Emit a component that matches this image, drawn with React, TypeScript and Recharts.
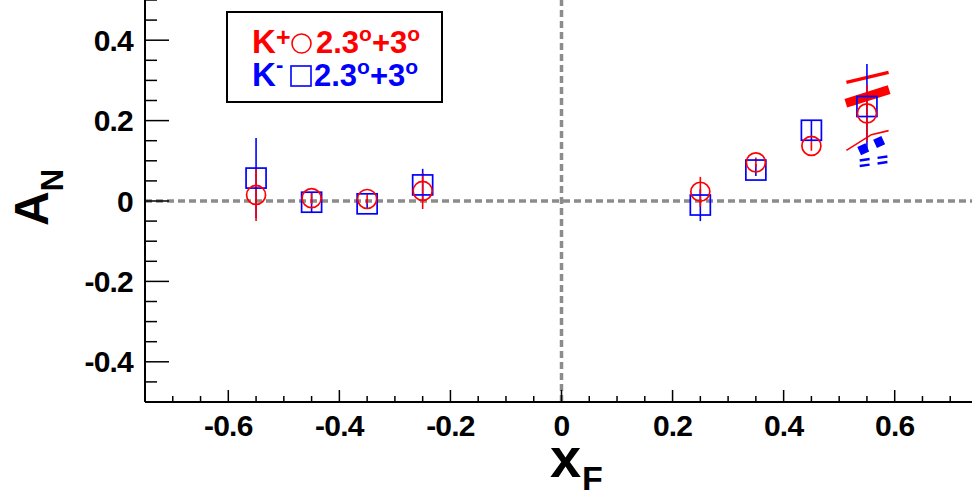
import React from "react";
import {
  ComposedChart,
  Scatter,
  Line,
  XAxis,
  YAxis,
  ErrorBar,
  ReferenceLine,
} from "recharts";

// ---------- data ----------
const X_F = [-0.55, -0.45, -0.35, -0.25, 0.25, 0.35, 0.45, 0.55];
const KPLUS_AN = [0.015, 0.007, 0.005, 0.025, 0.023, 0.096, 0.137, 0.218];
const KPLUS_ERR = [0.065, 0.015, 0.012, 0.045, 0.037, 0.012, 0.012, 0.07];
const KMINUS_AN = [0.057, -0.003, -0.007, 0.04, -0.01, 0.077, 0.176, 0.235];
const KMINUS_ERR = [0.1, 0.025, 0.012, 0.04, 0.04, 0.015, 0.025, 0.106];

// systematic-band fragments near xF = 0.55
const RED_THIN_TOP = [
  { x: 0.513, y: 0.295 },
  { x: 0.589, y: 0.32 },
];
const RED_THICK = [
  { x: 0.512, y: 0.243 },
  { x: 0.59, y: 0.277 },
];
const RED_CURVE = [
  { x: 0.513, y: 0.126 },
  { x: 0.558, y: 0.165 },
  { x: 0.589, y: 0.175 },
];
const BLUE_THICK = [
  { x: 0.536, y: 0.124 },
  { x: 0.58, y: 0.152 },
];
const BLUE_DASH_A = [
  { x: 0.537, y: 0.101 },
  { x: 0.588, y: 0.111 },
];
const BLUE_DASH_B = [
  { x: 0.537, y: 0.087 },
  { x: 0.588, y: 0.097 },
];

const X_TICKS = [
  -0.75, -0.7, -0.65, -0.6, -0.55, -0.5, -0.45, -0.4, -0.35, -0.3, -0.25, -0.2,
  -0.15, -0.1, -0.05, 0, 0.05, 0.1, 0.15, 0.2, 0.25, 0.3, 0.35, 0.4, 0.45, 0.5,
  0.55, 0.6, 0.65, 0.7, 0.75,
];
const Y_TICKS = [
  -0.5, -0.45, -0.4, -0.35, -0.3, -0.25, -0.2, -0.15, -0.1, -0.05, 0, 0.05, 0.1,
  0.15, 0.2, 0.25, 0.3, 0.35, 0.4, 0.45, 0.5,
];
const X_MAJOR = [-0.6, -0.4, -0.2, 0, 0.2, 0.4, 0.6];
const X_MAJOR_LABELS = ["-0.6", "-0.4", "-0.2", "0", "0.2", "0.4", "0.6"];
const Y_MAJOR = [-0.4, -0.2, 0, 0.2, 0.4];
const Y_MAJOR_LABELS = ["-0.4", "-0.2", "0", "0.2", "0.4"];

const kplus = X_F.map((x, i) => ({ x, y: KPLUS_AN[i], err: KPLUS_ERR[i] }));
const kminus = X_F.map((x, i) => ({ x, y: KMINUS_AN[i], err: KMINUS_ERR[i] }));

// ---------- layout ----------
const W = 978;
const H = 497;
const PLOT_LEFT = 145;
const PLOT_BOTTOM = 402;
const FONT = "'Liberation Sans', Arial, Helvetica, sans-serif";
const RED = "#ff0000";
const BLUE = "#0000ff";
const GREY = "#8c8c8c";
const TICK_FONT = 30;

const findIdx = (arr: number[], v: number) =>
  arr.findIndex((a) => Math.abs(a - v) < 1e-6);

const XTick = (props: any) => {
  const { x, payload } = props;
  const v = payload.value;
  const mi = findIdx(X_MAJOR, v);
  const major = mi >= 0;
  return (
    <g>
      <line
        x1={x}
        x2={x}
        y1={PLOT_BOTTOM}
        y2={PLOT_BOTTOM - (major ? 12 : 6)}
        stroke="#000"
        strokeWidth={1.5}
      />
      {major && (
        <text
          x={x}
          y={PLOT_BOTTOM + 34}
          textAnchor="middle"
          fontFamily={FONT}
          fontWeight="bold"
          fontSize={TICK_FONT}
          letterSpacing={-0.8}
          fill="#000"
        >
          {X_MAJOR_LABELS[mi]}
        </text>
      )}
    </g>
  );
};

const YTick = (props: any) => {
  const { y, payload } = props;
  const v = payload.value;
  const mi = findIdx(Y_MAJOR, v);
  const major = mi >= 0;
  return (
    <g>
      <line
        x1={PLOT_LEFT}
        x2={PLOT_LEFT + (major ? 24 : 12)}
        y1={y}
        y2={y}
        stroke="#000"
        strokeWidth={1.5}
      />
      {major && (
        <text
          x={PLOT_LEFT - 12}
          y={y + 10.5}
          textAnchor="end"
          fontFamily={FONT}
          fontWeight="bold"
          fontSize={TICK_FONT}
          letterSpacing={-0.8}
          fill="#000"
        >
          {Y_MAJOR_LABELS[mi]}
        </text>
      )}
    </g>
  );
};

const CircleShape = (p: any) => (
  <circle cx={p.cx} cy={p.cy} r={9.5} fill="none" stroke={RED} strokeWidth={1.7} />
);
const SquareShape = (p: any) => (
  <rect
    x={p.cx - 10}
    y={p.cy - 10}
    width={20}
    height={20}
    fill="none"
    stroke={BLUE}
    strokeWidth={1.7}
  />
);

export default function App() {
  return (
    <div
      style={{
        position: "absolute",
        left: 0,
        top: 0,
        width: 972,
        height: 497,
        overflow: "hidden",
        background: "#fff",
      }}
    >
      <ComposedChart
        width={W}
        height={H}
        margin={{ top: 0, right: 0, bottom: 0, left: 0 }}
      >
        <XAxis
          type="number"
          dataKey="x"
          domain={[-0.75, 0.75]}
          ticks={X_TICKS}
          interval={0}
          height={H - PLOT_BOTTOM}
          tick={<XTick />}
          tickLine={false}
          tickSize={0}
          axisLine={{ stroke: "#000", strokeWidth: 2 }}
          allowDataOverflow
        />
        <YAxis
          type="number"
          dataKey="y"
          domain={[-0.5, 0.5]}
          ticks={Y_TICKS}
          interval={0}
          width={PLOT_LEFT}
          tick={<YTick />}
          tickLine={false}
          tickSize={0}
          axisLine={{ stroke: "#000", strokeWidth: 2 }}
          allowDataOverflow
        />
        <ReferenceLine
          y={0}
          stroke={GREY}
          strokeWidth={3.5}
          strokeDasharray="7 4"
        />
        <ReferenceLine
          x={0}
          stroke={GREY}
          strokeWidth={3.5}
          strokeDasharray="7 4"
        />
        <Line
          data={RED_THIN_TOP}
          dataKey="y"
          stroke={RED}
          strokeWidth={3.5}
          dot={false}
          type="linear"
          isAnimationActive={false}
        />
        <Line
          data={RED_THICK}
          dataKey="y"
          stroke={RED}
          strokeWidth={9}
          dot={false}
          type="linear"
          isAnimationActive={false}
        />
        <Line
          data={RED_CURVE}
          dataKey="y"
          stroke={RED}
          strokeWidth={1.6}
          dot={false}
          type="linear"
          isAnimationActive={false}
        />
        <Line
          data={BLUE_THICK}
          dataKey="y"
          stroke={BLUE}
          strokeWidth={9}
          strokeDasharray="9 8.5"
          dot={false}
          type="linear"
          isAnimationActive={false}
        />
        <Line
          data={BLUE_DASH_A}
          dataKey="y"
          stroke={BLUE}
          strokeWidth={2.5}
          strokeDasharray="10 8"
          dot={false}
          type="linear"
          isAnimationActive={false}
        />
        <Line
          data={BLUE_DASH_B}
          dataKey="y"
          stroke={BLUE}
          strokeWidth={2.5}
          strokeDasharray="10 8"
          dot={false}
          type="linear"
          isAnimationActive={false}
        />
        <Scatter
          data={kminus}
          dataKey="y"
          shape={SquareShape}
          isAnimationActive={false}
        >
          <ErrorBar
            dataKey="err"
            direction="y"
            width={0}
            stroke={BLUE}
            strokeWidth={1.6}
          />
        </Scatter>
        <Scatter
          data={kplus}
          dataKey="y"
          shape={CircleShape}
          isAnimationActive={false}
        >
          <ErrorBar
            dataKey="err"
            direction="y"
            width={0}
            stroke={RED}
            strokeWidth={1.6}
          />
        </Scatter>
      </ComposedChart>
      <svg
        width={972}
        height={497}
        style={{ position: "absolute", left: 0, top: 0, pointerEvents: "none" }}
      >
        {/* axis titles */}
        <text fontFamily={FONT} fontWeight="bold" fill="#000">
          <tspan x={550} y={477} fontSize={56}>
            x
          </tspan>
          <tspan x={582} y={490} fontSize={34}>
            F
          </tspan>
        </text>
        <text
          transform="translate(48,226) rotate(-90)"
          fontFamily={FONT}
          fontWeight="bold"
          fill="#000"
        >
          <tspan fontSize={48}>A</tspan>
          <tspan fontSize={31} dy={15}>
            N
          </tspan>
        </text>
        {/* legend */}
        <rect
          x={227}
          y={12}
          width={215}
          height={90}
          fill="#fff"
          stroke="#000"
          strokeWidth={2}
        />
        <g fontFamily={FONT} fontWeight="bold">
          <text fontSize={33} fill={RED}>
            <tspan x={252} y={53}>K</tspan>
            <tspan x={276} y={46} fontSize={25}>+</tspan>
          </text>
          <circle cx={301.5} cy={43.5} r={9.5} fill="none" stroke={RED} strokeWidth={1.6} />
          <text x={316} y={53} fill={RED} fontSize={31}>
            2.3
            <tspan fontSize={21} dy={-12}>o</tspan>
            <tspan dy={12}>+3</tspan>
            <tspan fontSize={21} dy={-12}>o</tspan>
          </text>
          <text fontSize={33} fill={BLUE}>
            <tspan x={252} y={86}>K</tspan>
            <tspan x={276} y={72} fontSize={22}>-</tspan>
          </text>
          <rect x={291} y={66} width={20} height={20} fill="none" stroke={BLUE} strokeWidth={1.6} />
          <text x={314} y={86} fill={BLUE} fontSize={31}>
            2.3
            <tspan fontSize={21} dy={-12}>o</tspan>
            <tspan dy={12}>+3</tspan>
            <tspan fontSize={21} dy={-12}>o</tspan>
          </text>
        </g>
      </svg>
    </div>
  );
}
